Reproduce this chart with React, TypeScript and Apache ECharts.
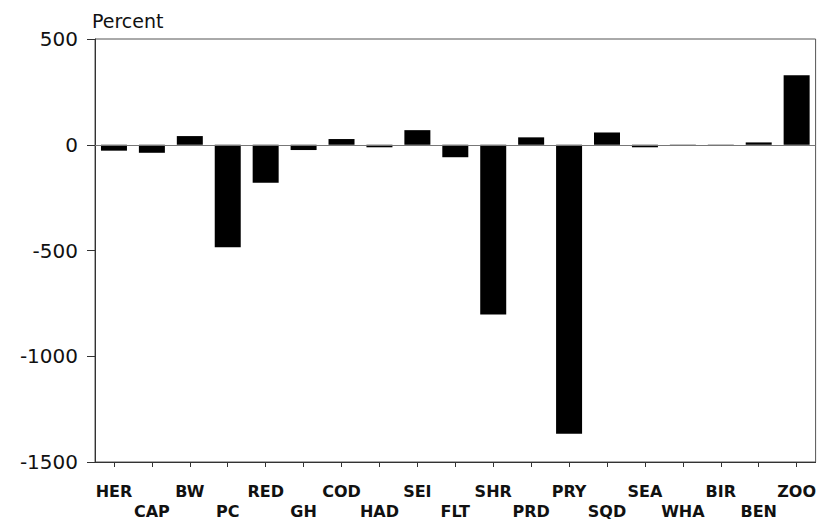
import React, { useEffect, useRef } from "react";
import * as echarts from "echarts";

const categories = ["HER", "CAP", "BW", "PC", "RED", "GH", "COD", "HAD", "SEI", "FLT", "SHR", "PRD", "PRY", "SQD", "SEA", "WHA", "BIR", "BEN", "ZOO"];
const percentValues = [-28, -38, 41, -485, -180, -25, 27, -12, 69, -59, -803, 35, -1366, 58, -12, -4, -3, 11, 329];
const yTicks = { min: -1500, max: 500, interval: 500 };
const yTitle = "Percent";

export default function App() {
  const ref = useRef<HTMLDivElement>(null);
  useEffect(() => {
    if (!ref.current) return;
    const chart = echarts.init(ref.current, null, { renderer: "svg" });
    const font = "DejaVu Sans";
    chart.setOption({
      animation: false,
      backgroundColor: "#ffffff",
      textStyle: { fontFamily: font, color: "#000" },
      graphic: [
        {
          type: "text",
          left: 92,
          top: 11,
          style: { text: yTitle, fontFamily: font, fontSize: 19, fill: "#111" },
        },
      ],
      grid: {
        left: 95,
        right: 2,
        top: 39,
        bottom: 56,
        show: true,
        borderColor: "#555",
        borderWidth: 1,
        backgroundColor: "transparent",
      },
      xAxis: {
        type: "category",
        data: categories,
        boundaryGap: true,
        axisLine: { show: true, onZero: false, lineStyle: { color: "#333", width: 1 } },
        axisTick: { show: true, alignWithLabel: true, length: 5, lineStyle: { color: "#333" } },
        axisLabel: {
          interval: 0,
          margin: 19,
          fontFamily: font,
          fontWeight: "bold",
          fontSize: 16,
          lineHeight: 20,
          color: "#111",
          formatter: (v: string, i: number) => (i % 2 === 1 ? "\n" + v : v),
        },
        splitLine: { show: false },
      },
      yAxis: {
        type: "value",
        min: yTicks.min,
        max: yTicks.max,
        interval: yTicks.interval,
        axisLine: { show: true, lineStyle: { color: "#333", width: 1 } },
        axisTick: { show: true, length: 8, lineStyle: { color: "#333" } },
        axisLabel: {
          margin: 17,
          fontFamily: font,
          fontSize: 20,
          color: "#111",
          formatter: (v: number) => String(v),
        },
        splitLine: { show: false },
      },
      series: [
        {
          type: "bar",
          data: percentValues,
          barWidth: 26,
          itemStyle: { color: "#000" },
          markLine: {
            silent: true,
            symbol: "none",
            label: { show: false },
            lineStyle: { color: "#777", width: 1, type: "solid" },
            data: [{ yAxis: 0 }],
          },
        },
      ],
    });
    return () => chart.dispose();
  }, []);
  return <div ref={ref} style={{ position: "fixed", left: 0, top: 0, width: 819, height: 521 }} />;
}
